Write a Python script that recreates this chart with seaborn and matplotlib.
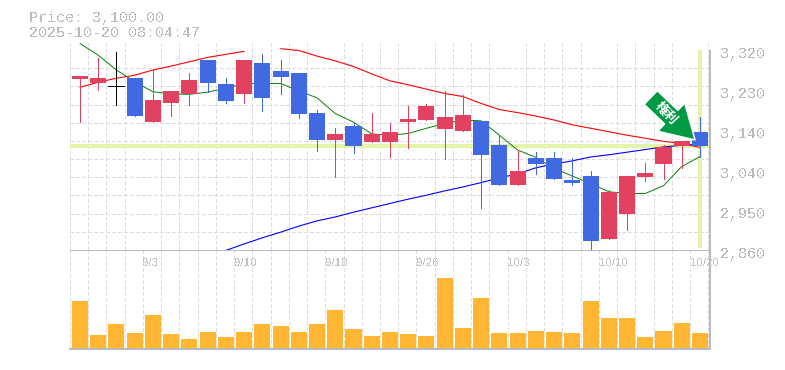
import numpy as np
import matplotlib
matplotlib.use("Agg")
import matplotlib.pyplot as plt
from matplotlib.transforms import ScaledTranslation
import seaborn as sns

opens  = [3253,3244,3237,3256,3154,3198,3219,3297,3242,3219,3290,3272,3267,3175,3113,3145,3108,3108,
          3155,3159,3138,3134,3157,3102,3010,3072,3072,3021,3030,2885,2943,3028,3058,3099,3131]
highs  = [3260,3301,3315,3256,3274,3226,3267,3297,3256,3297,3311,3297,3267,3182,3141,3152,3175,3152,
          3191,3196,3226,3217,3157,3125,3090,3085,3085,3072,3042,2998,3030,3060,3102,3111,3166]
lows   = [3155,3228,3194,3168,3154,3168,3194,3223,3198,3198,3180,3219,3164,3088,3028,3083,3108,3074,
          3095,3159,3069,3134,2957,3010,3010,3035,3023,3010,2858,2885,2906,3019,3023,3049,3074]
closes = [3260,3256,3237,3168,3205,3226,3251,3244,3203,3297,3210,3258,3173,3113,3127,3099,3127,3131,
          3161,3191,3166,3170,3078,3010,3042,3058,3023,3014,2881,2993,3030,3037,3097,3111,3100]
ma_short = [3335,3308,3274,3247,3224,3219,3218,3223,3232,3242,3243,3243,3226,3210,3174,3154,3127,3124,
            3128,3140,3151,3159,3157,3124,3090,3073,3048,3030,3013,2994,2990,2990,3008,3052,3075]
ma_mid = [3234,3246,3255,3262,3274,3283,3293,3303,3310,3317,np.nan,3323,3319,3306,3295,3282,3265,3249,
          3240,3230,3220,3213,3197,3183,3176,3168,3159,3148,3140,3132,3124,3117,3110,3105,3096]
ma_long = [np.nan]*8 + [2859,2874,2888,2901,2915,2927,2936,2947,2957,2967,2977,2986,2996,3005,3015,3026,
           3035,3049,3058,3065,3074,3079,3085,3091,3097,3101,3103]
volume = [4800,1400,2500,1600,3400,1500,1000,1700,1200,1700,2500,2300,1700,2500,3900,2000,1300,1700,
          1500,1300,7100,2100,5100,1600,1600,1800,1700,1600,4800,3100,3100,1200,1800,2600,1600]
date_labels = ["9/3","9/10","9/18","9/26","10/3","10/10","10/20"]
date_edges = [4,9,14,19,24,29,34]
price_ticks = [3320,3228,3136,3044,2952,2860]
price_labels = ["3,320","3,230","3,140","3,040","2,950","2,860"]
current_price = 3100
title_lines = ["Price: 3,100.00","2025-10-20 08:04:47"]
mark_text = "権利"

sns.set_style("white")
plt.rcParams.update({"text.antialiased":False,"lines.antialiased":False,"patch.antialiased":False})
MONO = "Liberation Mono"
W,H = 785,370
UP,DOWN,ORANGE = "#E2425F","#4169E1","#FFB733"
GRID,AXIS,TXT,HL = "#DDDDDD","#BBBBBB","#BBBBBB","#E4F5A9"
px = 0.72
DASH = (0,(4,2.5))

fig = plt.figure(figsize=(W/100,H/100),dpi=100)
ax_v = fig.add_axes([70/W,1-349/H,640/W,99/H])
ax = fig.add_axes([70/W,1-250/H,640/W,209/H])
ax.patch.set_alpha(0)
ax_v.patch.set_alpha(0)

idx = np.arange(len(opens))
XL = (-0.548,34.55)
edges = XL[0]+np.arange(36)

# volume
sns.barplot(x=idx,y=volume,native_scale=True,width=0.88,color=ORANGE,saturation=1,linewidth=0,ax=ax_v)
ax_v.set_xlim(*XL); ax_v.set_ylim(0,9900)
ax_v.set_xticks(edges); ax_v.set_yticks([])
ax_v.tick_params(length=0,labelbottom=False)
ax_v.set_xlabel(""); ax_v.set_ylabel("")
ax_v.grid(True,axis="x",color=GRID,lw=px,ls=DASH)
ax_v.set_axisbelow(True)
for s in ax_v.spines.values(): s.set_visible(False)
ax_v.spines["bottom"].set_visible(True); ax_v.spines["bottom"].set_color(AXIS); ax_v.spines["bottom"].set_linewidth(2*px)
ax_v.spines["right"].set_visible(True); ax_v.spines["right"].set_color(AXIS); ax_v.spines["right"].set_linewidth(2*px)

# price panel
ax.set_xlim(*XL); ax.set_ylim(2860,3340.7)
ax.set_xticks(edges,minor=True)
ax.set_yticks(3320-460/11*np.arange(11),minor=True)
ax.grid(True,which="minor",color=GRID,lw=px,ls=DASH)
ax.set_axisbelow(True)
ax.hlines(current_price,XL[0],XL[1],color=HL,lw=4*px,zorder=1)
ax.vlines(idx[-1],2865,3320,color=HL,lw=3.5*px,zorder=1)

ser = [(ma_short,"#008000",0.95),(ma_long,"#0000FF",1.1)]
for vals,c,w in ser:
    a = np.array(vals,float); m = ~np.isnan(a)
    sns.lineplot(x=idx[m],y=a[m],color=c,lw=w*px,antialiased=True,errorbar=None,ax=ax,zorder=2)
a = np.array(ma_mid,float)
for m in (idx<10,idx>10):
    sns.lineplot(x=idx[m],y=a[m],color="#FF0000",lw=1.1*px,antialiased=True,errorbar=None,ax=ax,zorder=2)

o,h,l,c = map(np.array,(opens,highs,lows,closes))
cols = np.where(c>o,UP,np.where(c<o,DOWN,"black"))
ax.vlines(idx,l,h,colors=cols,lw=px,zorder=3)
ax.bar(idx,np.abs(c-o),bottom=np.minimum(o,c),width=0.88,color=cols,linewidth=0,zorder=4)
d = c==o
ax.hlines(c[d],idx[d]-0.44,idx[d]+0.44,colors="black",lw=px,zorder=4)

# spine / right edge
for s in ax.spines.values(): s.set_visible(False)
ax.spines["bottom"].set_visible(True); ax.spines["bottom"].set_color(AXIS); ax.spines["bottom"].set_linewidth(px)
ax.vlines(XL[1],2860,3320,color=AXIS,lw=2*px,zorder=2,clip_on=False)

ax.set_xlabel(""); ax.set_ylabel("")
ax.set_xticks(XL[0]+np.array(date_edges)); ax.set_xticklabels(date_labels,ha="left",fontfamily="Liberation Sans",fontsize=11.5*px,color="#C4C4C4")
ax.yaxis.tick_right()
ax.set_yticks(price_ticks); ax.set_yticklabels(price_labels,fontfamily=MONO,fontsize=15*px,color=TXT)
ax.tick_params(axis="x",which="both",length=0,pad=5.5)
ax.tick_params(axis="y",which="both",length=0,pad=10*px)
off = ScaledTranslation(0,-2.7/100,fig.dpi_scale_trans)
for t in ax.get_yticklabels(): t.set_transform(t.get_transform()+off)

for i,t in enumerate(title_lines):
    fig.text(29/W,1-(18.3+14.5*i)/H,t,family=MONO,fontsize=15*px,color=TXT,va="center")

# marker arrow
tip = (33.73,3113)
ax.annotate("",xy=tip,xytext=(-44.3*px,42.5*px),textcoords="offset points",annotation_clip=False,zorder=6,
            arrowprops=dict(width=19*px,headwidth=39*px,headlength=33*px,shrink=0,facecolor="#009944",
                            edgecolor="white",lw=1.5*px,antialiased=True))
ax.annotate(mark_text,xy=tip,xytext=(-29*px,27*px),textcoords="offset points",rotation=-47,rotation_mode="anchor",
            ha="center",va="center",color="white",family="Noto Sans CJK JP",fontweight="bold",fontsize=13*px,zorder=7,
            annotation_clip=False,antialiased=True)

fig.savefig("out.png",dpi=100)
